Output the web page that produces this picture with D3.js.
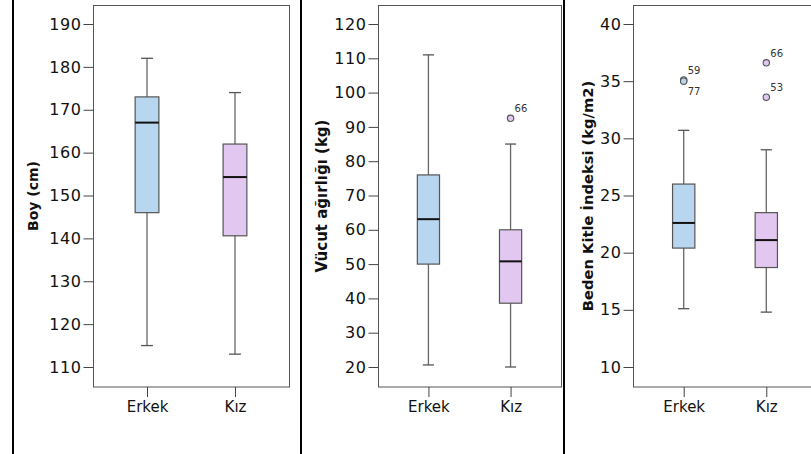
<!DOCTYPE html>
<html>
<head>
<meta charset="utf-8">
<script src="https://cdn.jsdelivr.net/npm/d3@7"></script>
<style>
    body { margin: 0; background: #fff; }
    svg { display: block; }
    .axis text { font-family: "DejaVu Sans", sans-serif; font-size: 15px; fill: #111; }
    .y-axis text { font-size: 16px; letter-spacing: 0.6px; }
    .axis path { display: none; }
    .axis line { stroke: #444; }
</style>
</head>
<body>
<div id="chart"></div>
<script>
// categories and five-number summaries [min, Q1, median, Q3, max]
let categories = ["Erkek", "Kız"]

let boyStats = [[115, 146, 167, 173, 182], [113, 140.6, 154.3, 162, 174]]
let boyTicks = [110, 120, 130, 140, 150, 160, 170, 180, 190]
let boyOutliers = []

let kiloStats = [[20.6, 50, 63.1, 76, 111], [20, 38.6, 50.8, 60, 85]]
let kiloTicks = [20, 30, 40, 50, 60, 70, 80, 90, 100, 110, 120]
let kiloOutliers = [{cat: "Kız", value: 92.5, label: "66"}]

let bkiStats = [[15.1, 20.4, 22.6, 26, 30.7], [14.8, 18.7, 21.1, 23.5, 29]]
let bkiTicks = [10, 15, 20, 25, 30, 35, 40]
let bkiOutliers = [
    {cat: "Erkek", value: 35.1, label: "59"},
    {cat: "Erkek", value: 35.0, label: "77"},
    {cat: "Kız", value: 36.6, label: "66"},
    {cat: "Kız", value: 33.6, label: "53"}
]

let fills = {"Erkek": "#b8d6f0", "Kız": "#e2c7f1"}

let svg = d3.select("#chart").append("svg")
    .attr("width", 811)
    .attr("height", 454)

// panel separators
;[13, 301, 564].forEach(function (x) {
    svg.append("line")
        .attr("x1", x).attr("x2", x)
        .attr("y1", 0).attr("y2", 454)
        .attr("stroke", "#000")
        .attr("stroke-width", 2)
})

class BoxVis {
    constructor(svg, opts) {
        this.svg = svg
        this.opts = opts
        this.initVis()
    }

    initVis() {
        let vis = this
        let o = vis.opts
        vis.top = 5
        vis.bottom = 386.5

        vis.y = d3.scaleLinear()
            .domain([o.ticks[0], o.ticks[o.ticks.length - 1]])
            .range([367, 24])

        vis.x = d3.scalePoint()
            .domain(categories)
            .range([o.left, o.right])
            .padding(0.614)

        vis.g = vis.svg.append("g")

        // frame
        vis.g.append("rect")
            .attr("x", o.left + 0.5)
            .attr("y", vis.top + 0.5)
            .attr("width", o.right - o.left)
            .attr("height", vis.bottom - vis.top)
            .attr("fill", "none")
            .attr("stroke", "#555")

        // axes
        vis.g.append("g")
            .attr("class", "axis y-axis")
            .attr("transform", `translate(${o.left + 0.5},0)`)
            .call(d3.axisLeft(vis.y).tickValues(o.ticks).tickSize(10).tickPadding(2))

        vis.g.append("g")
            .attr("class", "axis x-axis")
            .attr("transform", `translate(0,${vis.bottom + 0.5})`)
            .call(d3.axisBottom(vis.x).tickSize(10).tickPadding(4))

        // axis title
        vis.g.append("text")
            .attr("transform", `translate(${o.titleX},196) rotate(-90)`)
            .attr("text-anchor", "middle")
            .attr("dominant-baseline", "central")
            .attr("font-family", "DejaVu Sans, sans-serif")
            .attr("font-weight", "bold")
            .attr("font-size", o.titleSize || "14px")
            .attr("fill", "#111")
            .text(o.title)

        vis.drawBoxes()
    }

    drawBoxes() {
        let vis = this
        let o = vis.opts
        let bw = vis.x.step() * 0.27
        let cw = bw * 0.5

        let boxes = vis.g.selectAll(".box")
            .data(o.stats.map((s, i) => ({cat: categories[i], s: s})))
            .enter().append("g")
            .attr("class", "box")

        boxes.append("line")
            .attr("x1", d => vis.x(d.cat)).attr("x2", d => vis.x(d.cat))
            .attr("y1", d => vis.y(d.s[0])).attr("y2", d => vis.y(d.s[4]))
            .attr("stroke", "#666").attr("stroke-width", 1.3)

        boxes.selectAll(".cap")
            .data(d => [{cat: d.cat, v: d.s[0]}, {cat: d.cat, v: d.s[4]}])
            .enter().append("line")
            .attr("class", "cap")
            .attr("x1", d => vis.x(d.cat) - cw / 2).attr("x2", d => vis.x(d.cat) + cw / 2)
            .attr("y1", d => vis.y(d.v)).attr("y2", d => vis.y(d.v))
            .attr("stroke", "#555").attr("stroke-width", 1.3)

        boxes.append("rect")
            .attr("x", d => vis.x(d.cat) - bw / 2)
            .attr("y", d => vis.y(d.s[3]))
            .attr("width", bw)
            .attr("height", d => vis.y(d.s[1]) - vis.y(d.s[3]))
            .attr("fill", d => fills[d.cat])
            .attr("stroke", "#555")
            .attr("stroke-width", 1.2)

        boxes.append("line")
            .attr("x1", d => vis.x(d.cat) - bw / 2).attr("x2", d => vis.x(d.cat) + bw / 2)
            .attr("y1", d => vis.y(d.s[2])).attr("y2", d => vis.y(d.s[2]))
            .attr("stroke", "#111").attr("stroke-width", 2)

        // outliers, label above right; a second point in the same spot gets its label below
        let seen = {}
        o.outliers.forEach(function (d) {
            let cx = vis.x(d.cat), cy = vis.y(d.value)
            let below = seen[d.cat] !== undefined && Math.abs(seen[d.cat] - d.value) < 0.5
            seen[d.cat] = d.value
            vis.g.append("circle")
                .attr("cx", cx).attr("cy", cy).attr("r", 3.2)
                .attr("fill", fills[d.cat])
                .attr("stroke", "#555")
                .attr("stroke-width", 1.1)
            vis.g.append("text")
                .attr("x", cx + 4)
                .attr("y", below ? cy + 14 : cy - 6)
                .attr("font-family", "DejaVu Sans, sans-serif")
                .attr("font-size", "10px")
                .attr("fill", "#333")
                .text(d.label)
        })
    }
}

new BoxVis(svg, {left: 93, right: 289, titleX: 33, title: "Boy (cm)",
    stats: boyStats, ticks: boyTicks, outliers: boyOutliers})
new BoxVis(svg, {left: 378, right: 561, titleX: 322, title: "Vücut ağırlığı (kg)", titleSize: "15px",
    stats: kiloStats, ticks: kiloTicks, outliers: kiloOutliers})
new BoxVis(svg, {left: 633, right: 817, titleX: 587, title: "Beden Kitle İndeksi (kg/m2)", titleSize: "14.7px",
    stats: bkiStats, ticks: bkiTicks, outliers: bkiOutliers})
</script>
</body>
</html>
